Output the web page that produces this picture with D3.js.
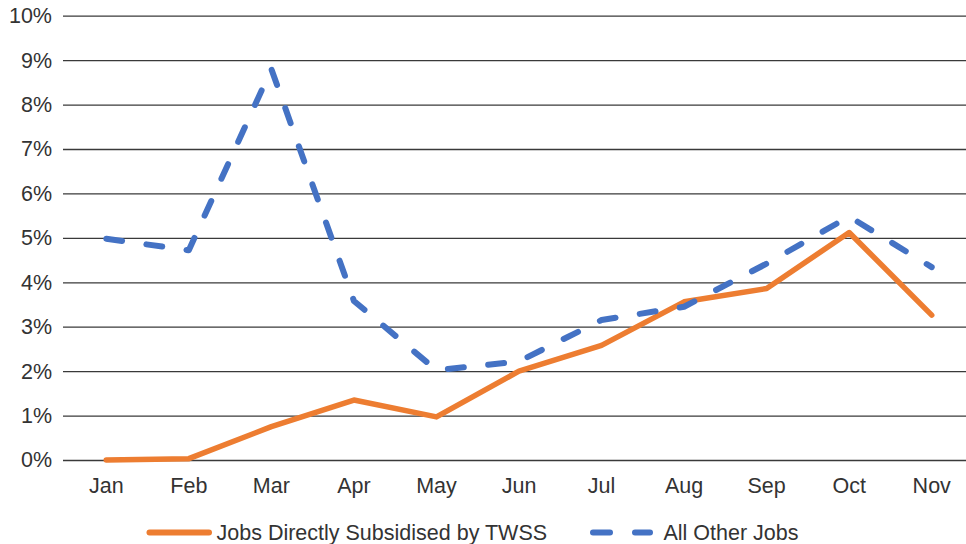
<!DOCTYPE html>
<html>
<head>
<meta charset="utf-8">
<script src="https://cdn.jsdelivr.net/npm/d3@7"></script>
<style>
  html, body { margin: 0; padding: 0; background: #fff; }
  svg { display: block; font-family: "Liberation Sans", Arial, Helvetica, sans-serif; }
</style>
</head>
<body>
<svg id="chart" width="966" height="544"></svg>
<script>
// Monthly rates for the two job groups
const months = ["Jan", "Feb", "Mar", "Apr", "May", "Jun", "Jul", "Aug", "Sep", "Oct", "Nov"];
const subsidisedJobs = [0.0000, 0.0003, 0.0075, 0.0135, 0.0097, 0.0200, 0.0258, 0.0356, 0.0386, 0.0512, 0.0326];
const otherJobs      = [0.0498, 0.0472, 0.0880, 0.0358, 0.0202, 0.0222, 0.0315, 0.0345, 0.0442, 0.0548, 0.0434];
const yTicks = [0, 0.01, 0.02, 0.03, 0.04, 0.05, 0.06, 0.07, 0.08, 0.09, 0.10];

const seriesNames = ["Jobs Directly Subsidised by TWSS", "All Other Jobs"];
const seriesColors = ["#ED7D31", "#4472C4"];

const fontSize = 21.5;
const svg = d3.select("#chart");

const plot = { left: 63, right: 973, top: 15.7, bottom: 460 };

const x = d3.scaleBand()
  .domain(months)
  .range([65, 973])
  .padding(0);

const y = d3.scaleLinear()
  .domain([0, 0.10])
  .range([plot.bottom, plot.top]);

const fmt = d3.format(".0%");

// Horizontal gridlines with left-hand percentage labels
const yAxis = d3.axisLeft(y)
  .tickValues(yTicks)
  .tickFormat(fmt)
  .tickSize(-(plot.right - plot.left))
  .tickPadding(10);

const gy = svg.append("g")
  .attr("transform", `translate(${plot.left},0)`)
  .call(yAxis);
gy.select(".domain").remove();
gy.selectAll(".tick line")
  .attr("stroke", "#3a3a3a")
  .attr("stroke-width", 1.3);
gy.selectAll(".tick text")
  .attr("fill", "#333")
  .attr("font-size", fontSize)
  .attr("x", -11);

// Month labels along the bottom
const xAxis = d3.axisBottom(x).tickSize(0).tickPadding(0);
const gx = svg.append("g")
  .attr("transform", `translate(0,${plot.bottom})`)
  .call(xAxis);
gx.select(".domain").remove();
gx.selectAll(".tick text")
  .attr("fill", "#333")
  .attr("font-size", fontSize)
  .attr("dy", 0)
  .attr("y", 33);

const cx = m => x(m) + x.bandwidth() / 2;

const line = d3.line()
  .x((d, i) => cx(months[i]))
  .y(d => y(d));

// Subsidised jobs: solid orange
svg.append("path")
  .datum(subsidisedJobs)
  .attr("d", line)
  .attr("fill", "none")
  .attr("stroke", seriesColors[0])
  .attr("stroke-width", 5.5)
  .attr("stroke-linecap", "round")
  .attr("stroke-linejoin", "round");

// All other jobs: dashed blue, drawn on top
svg.append("path")
  .datum(otherJobs)
  .attr("d", line)
  .attr("fill", "none")
  .attr("stroke", seriesColors[1])
  .attr("stroke-width", 6)
  .attr("stroke-dasharray", "16,24.5")
  .attr("stroke-linecap", "round")
  .attr("stroke-linejoin", "round");

// Legend
const legend = svg.append("g").attr("class", "legend");
const ly = 532.5;

legend.append("line")
  .attr("x1", 149.5).attr("x2", 209)
  .attr("y1", ly).attr("y2", ly)
  .attr("stroke", seriesColors[0])
  .attr("stroke-width", 6)
  .attr("stroke-linecap", "round");
legend.append("text")
  .attr("x", 216.5).attr("y", ly)
  .attr("dy", "0.34em")
  .attr("font-size", fontSize)
  .attr("fill", "#333")
  .text(seriesNames[0]);

[[593, 610], [635, 650]].forEach(([a, b]) => {
  legend.append("line")
    .attr("x1", a).attr("x2", b)
    .attr("y1", ly).attr("y2", ly)
    .attr("stroke", seriesColors[1])
    .attr("stroke-width", 6)
    .attr("stroke-linecap", "round");
});
legend.append("text")
  .attr("x", 663.5).attr("y", ly)
  .attr("dy", "0.34em")
  .attr("font-size", fontSize)
  .attr("fill", "#333")
  .text(seriesNames[1]);
</script>
</body>
</html>
